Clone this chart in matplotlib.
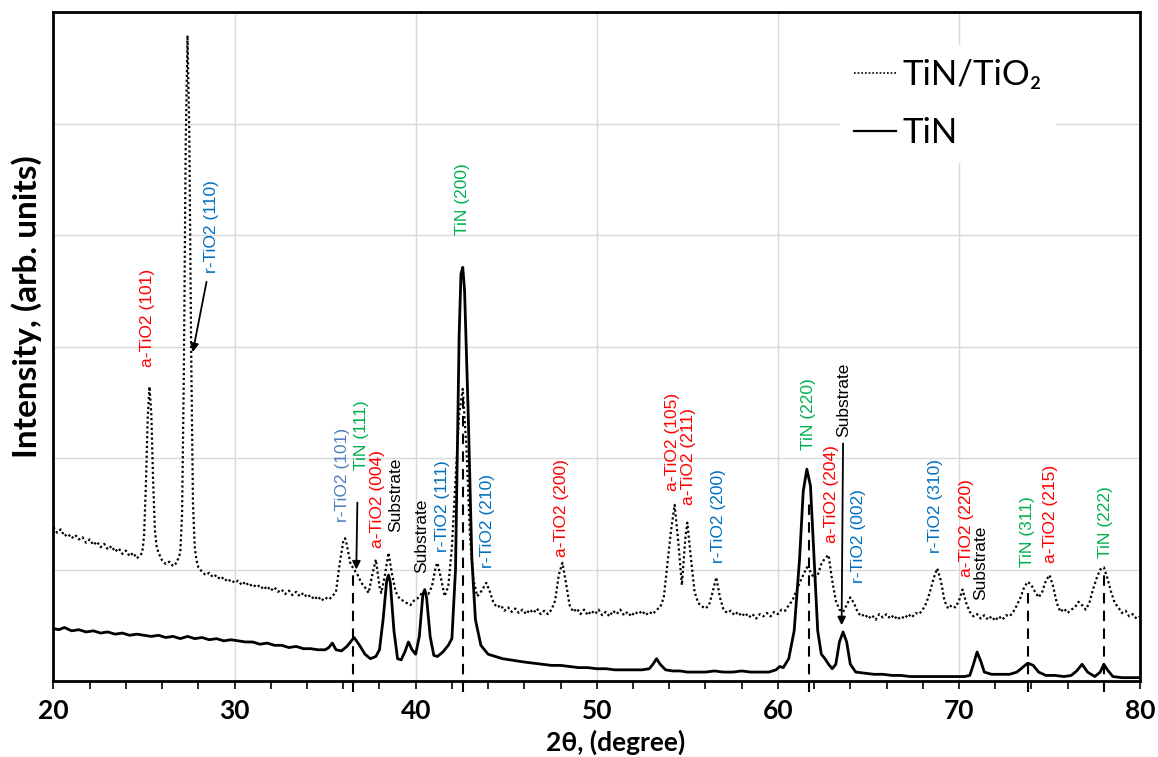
import matplotlib
matplotlib.use("Agg")
import matplotlib.pyplot as plt
from matplotlib.lines import Line2D

# XRD patterns (2theta in degree, intensity in arbitrary units)

# TiN/TiO2 coating (dotted curve)
tio2_x = [20.0, 20.2, 20.4, 20.6, 20.8, 21.0, 21.2, 21.4, 21.6, 21.8,
          22.0, 22.2, 22.4, 22.6, 22.8, 23.0, 23.2, 23.4, 23.6, 23.8,
          24.0, 24.2, 24.4, 24.6, 24.8, 24.9, 25.0, 25.1, 25.2, 25.3,
          25.4, 25.5, 25.6, 25.7, 25.8, 26.0, 26.2, 26.4, 26.6, 26.8,
          27.0, 27.1, 27.2, 27.3, 27.4, 27.5, 27.6, 27.7, 27.8, 27.9,
          28.0, 28.2, 28.4, 28.6, 28.8, 29.0, 29.2, 29.4, 29.6, 29.8,
          30.0, 30.2, 30.4, 30.6, 30.8, 31.0, 31.2, 31.4, 31.6, 31.8,
          32.0, 32.2, 32.4, 32.6, 32.8, 33.0, 33.2, 33.4, 33.6, 33.8,
          34.0, 34.2, 34.4, 34.6, 34.8, 35.0, 35.2, 35.4, 35.6, 35.8,
          36.0, 36.1, 36.2, 36.4, 36.6, 36.8, 37.0, 37.2, 37.4, 37.6,
          37.8, 38.0, 38.1, 38.3, 38.5, 38.7, 38.9, 39.1, 39.3, 39.5,
          39.7, 39.9, 40.1, 40.3, 40.5, 40.7, 40.9, 41.1, 41.2, 41.4,
          41.6, 41.8, 42.0, 42.2, 42.4, 42.6, 42.8, 43.0, 43.2, 43.4,
          43.6, 43.9, 44.1, 44.3, 44.5, 44.7, 44.9, 45.1, 45.3, 45.5,
          45.7, 45.9, 46.1, 46.3, 46.5, 46.7, 46.9, 47.1, 47.3, 47.5,
          47.7, 47.9, 48.1, 48.3, 48.5, 48.7, 48.9, 49.1, 49.3, 49.5,
          49.7, 49.9, 50.1, 50.3, 50.5, 50.7, 50.9, 51.1, 51.3, 51.5,
          51.7, 51.9, 52.1, 52.3, 52.5, 52.7, 52.9, 53.1, 53.3, 53.5,
          53.7, 53.9, 54.1, 54.3, 54.5, 54.7, 54.9, 55.0, 55.2, 55.4,
          55.6, 55.8, 56.0, 56.2, 56.4, 56.6, 56.8, 57.0, 57.2, 57.4,
          57.6, 57.8, 58.0, 58.2, 58.4, 58.6, 58.8, 59.0, 59.2, 59.4,
          59.6, 59.8, 60.0, 60.2, 60.4, 60.6, 60.8, 61.0, 61.2, 61.4,
          61.6, 61.8, 62.0, 62.2, 62.4, 62.6, 62.8, 63.0, 63.2, 63.4,
          63.6, 63.8, 64.0, 64.2, 64.4, 64.6, 64.8, 65.0, 65.2, 65.4,
          65.6, 65.8, 66.0, 66.2, 66.4, 66.6, 66.8, 67.0, 67.2, 67.4,
          67.6, 67.8, 68.0, 68.2, 68.4, 68.6, 68.8, 69.0, 69.2, 69.4,
          69.6, 69.8, 70.0, 70.2, 70.4, 70.6, 70.8, 71.0, 71.2, 71.4,
          71.6, 71.8, 72.0, 72.2, 72.4, 72.6, 72.8, 73.0, 73.2, 73.4,
          73.6, 73.8, 74.0, 74.2, 74.4, 74.6, 74.8, 75.0, 75.2, 75.4,
          75.6, 75.8, 76.0, 76.2, 76.4, 76.6, 76.8, 77.0, 77.2, 77.4,
          77.6, 77.8, 78.0, 78.2, 78.4, 78.6, 78.8, 79.0, 79.2, 79.4,
          79.6, 79.8, 80.0]
tio2_y = [1.38, 1.33, 1.36, 1.30, 1.32, 1.28, 1.31, 1.27, 1.29, 1.24,
          1.27, 1.22, 1.25, 1.20, 1.23, 1.18, 1.21, 1.16, 1.19, 1.14,
          1.17, 1.12, 1.15, 1.10, 1.13, 1.15, 1.30, 1.75, 2.35, 2.64,
          2.40, 1.80, 1.35, 1.20, 1.15, 1.08, 1.05, 1.07, 1.03, 1.06,
          1.15, 1.50, 2.80, 4.80, 5.79, 4.90, 3.00, 1.60, 1.20, 1.08,
          1.02, 0.98, 0.95, 0.97, 0.93, 0.95, 0.91, 0.93, 0.89, 0.91,
          0.88, 0.90, 0.86, 0.89, 0.85, 0.87, 0.84, 0.86, 0.82, 0.85,
          0.81, 0.84, 0.80, 0.82, 0.78, 0.81, 0.77, 0.80, 0.76, 0.79,
          0.75, 0.77, 0.73, 0.76, 0.72, 0.75, 0.73, 0.76, 0.80, 1.05,
          1.25, 1.28, 1.22, 1.05, 1.00, 0.95, 0.88, 0.84, 0.79, 0.95,
          1.09, 0.85, 0.79, 0.95, 1.15, 0.95, 0.80, 0.74, 0.72, 0.70,
          0.68, 0.72, 0.74, 0.78, 0.80, 0.78, 0.85, 1.02, 1.06, 0.92,
          0.76, 0.85, 1.20, 1.80, 2.40, 2.62, 2.10, 1.30, 0.90, 0.76,
          0.80, 0.88, 0.80, 0.70, 0.66, 0.68, 0.63, 0.66, 0.62, 0.65,
          0.61, 0.64, 0.60, 0.64, 0.61, 0.65, 0.60, 0.63, 0.60, 0.64,
          0.72, 0.95, 1.06, 0.88, 0.68, 0.62, 0.65, 0.60, 0.64, 0.59,
          0.63, 0.60, 0.64, 0.59, 0.62, 0.58, 0.63, 0.60, 0.64, 0.59,
          0.62, 0.58, 0.62, 0.60, 0.63, 0.59, 0.62, 0.60, 0.64, 0.66,
          0.75, 1.05, 1.35, 1.58, 1.25, 0.86, 1.30, 1.42, 1.10, 0.80,
          0.70, 0.67, 0.65, 0.68, 0.80, 0.93, 0.75, 0.64, 0.61, 0.63,
          0.59, 0.62, 0.58, 0.61, 0.57, 0.60, 0.56, 0.60, 0.58, 0.61,
          0.58, 0.62, 0.60, 0.64, 0.63, 0.68, 0.72, 0.80, 0.88, 0.95,
          1.02, 0.98, 0.92, 0.95, 1.05, 1.10, 1.13, 0.90, 0.72, 0.64,
          0.62, 0.68, 0.75, 0.70, 0.62, 0.58, 0.60, 0.56, 0.59, 0.55,
          0.60, 0.57, 0.60, 0.56, 0.59, 0.55, 0.58, 0.56, 0.60, 0.57,
          0.61, 0.60, 0.64, 0.70, 0.80, 0.92, 1.01, 0.90, 0.72, 0.65,
          0.68, 0.66, 0.72, 0.82, 0.70, 0.62, 0.58, 0.60, 0.56, 0.59,
          0.55, 0.58, 0.54, 0.58, 0.55, 0.59, 0.58, 0.62, 0.68, 0.75,
          0.84, 0.89, 0.86, 0.80, 0.75, 0.80, 0.90, 0.95, 0.85, 0.70,
          0.62, 0.65, 0.61, 0.64, 0.66, 0.71, 0.68, 0.64, 0.70, 0.82,
          0.92, 1.00, 1.02, 0.92, 0.80, 0.70, 0.66, 0.61, 0.63, 0.58,
          0.60, 0.56, 0.58]

# TiN coating (solid curve)
tin_x = [20.0, 20.3, 20.6, 21.0, 21.4, 21.8, 22.2, 22.6, 23.0, 23.4,
         23.8, 24.2, 24.6, 25.0, 25.4, 25.8, 26.2, 26.6, 27.0, 27.4,
         27.8, 28.2, 28.6, 29.0, 29.4, 29.8, 30.2, 30.6, 31.0, 31.4,
         31.8, 32.2, 32.6, 33.0, 33.4, 33.8, 34.2, 34.6, 35.0, 35.2,
         35.4, 35.6, 35.9, 36.2, 36.6, 36.9, 37.2, 37.5, 37.8, 38.0,
         38.2, 38.4, 38.5, 38.6, 38.8, 39.0, 39.2, 39.4, 39.6, 39.8,
         40.0, 40.2, 40.4, 40.5, 40.6, 40.8, 41.0, 41.2, 41.5, 41.8,
         42.0, 42.2, 42.4, 42.5, 42.6, 42.7, 42.9, 43.1, 43.3, 43.6,
         44.0, 44.4, 44.8, 45.2, 45.6, 46.0, 46.5, 47.0, 47.5, 48.0,
         48.5, 49.0, 49.5, 50.0, 50.5, 51.0, 51.5, 52.0, 52.5, 52.9,
         53.1, 53.3, 53.5, 53.8, 54.2, 54.6, 55.0, 55.5, 56.0, 56.5,
         57.0, 57.5, 58.0, 58.5, 59.0, 59.5, 59.9, 60.1, 60.3, 60.6,
         60.9, 61.2, 61.4, 61.6, 61.8, 62.0, 62.2, 62.4, 62.6, 62.8,
         63.0, 63.2, 63.4, 63.6, 63.8, 64.0, 64.3, 64.8, 65.3, 65.8,
         66.3, 66.8, 67.3, 67.8, 68.3, 68.8, 69.3, 69.8, 70.3, 70.6,
         70.8, 71.0, 71.2, 71.4, 71.8, 72.3, 72.8, 73.2, 73.5, 73.8,
         74.1, 74.4, 74.8, 75.3, 75.8, 76.2, 76.5, 76.8, 77.1, 77.5,
         77.8, 78.0, 78.2, 78.5, 79.0, 79.5, 80.0]
tin_y = [0.47, 0.46, 0.48, 0.45, 0.46, 0.44, 0.45, 0.43, 0.44, 0.42,
         0.43, 0.41, 0.42, 0.41, 0.40, 0.41, 0.39, 0.40, 0.38, 0.40,
         0.38, 0.39, 0.37, 0.38, 0.36, 0.37, 0.36, 0.35, 0.35, 0.33,
         0.34, 0.32, 0.32, 0.30, 0.31, 0.29, 0.29, 0.28, 0.28, 0.30,
         0.34, 0.28, 0.27, 0.31, 0.39, 0.32, 0.24, 0.20, 0.22, 0.28,
         0.55, 0.90, 0.95, 0.88, 0.45, 0.20, 0.19, 0.26, 0.35, 0.28,
         0.24, 0.40, 0.78, 0.82, 0.75, 0.40, 0.23, 0.22, 0.26, 0.32,
         0.38, 1.00, 3.10, 3.65, 3.71, 3.50, 2.40, 1.10, 0.55, 0.32,
         0.24, 0.22, 0.20, 0.19, 0.18, 0.17, 0.16, 0.15, 0.14, 0.14,
         0.13, 0.12, 0.12, 0.11, 0.11, 0.10, 0.10, 0.10, 0.10, 0.11,
         0.15, 0.20, 0.15, 0.10, 0.09, 0.09, 0.08, 0.08, 0.08, 0.09,
         0.08, 0.08, 0.09, 0.08, 0.08, 0.08, 0.10, 0.13, 0.12, 0.20,
         0.45, 1.10, 1.70, 1.90, 1.75, 1.10, 0.45, 0.24, 0.20, 0.15,
         0.11, 0.15, 0.35, 0.44, 0.35, 0.15, 0.08, 0.07, 0.06, 0.06,
         0.05, 0.05, 0.04, 0.04, 0.04, 0.04, 0.04, 0.04, 0.04, 0.05,
         0.15, 0.26, 0.18, 0.08, 0.06, 0.06, 0.06, 0.08, 0.12, 0.16,
         0.14, 0.08, 0.05, 0.05, 0.04, 0.05, 0.09, 0.15, 0.08, 0.04,
         0.08, 0.15, 0.10, 0.04, 0.03, 0.03, 0.03]

# peak labels: text, colour, x, bottom of text
peak_labels = ["a-TiO2 (101)", "r-TiO2 (110)", "r-TiO2 (101)", "TiN (111)",
               "a-TiO2 (004)", "Substrate", "Substrate", "r-TiO2 (111)",
               "TiN (200)", "r-TiO2 (210)", "a-TiO2 (200)", "a-TiO2 (105)",
               "a-TiO2 (211)", "r-TiO2 (200)", "TiN (220)", "Substrate",
               "a-TiO2 (204)", "r-TiO2 (002)", "r-TiO2 (310)", "a-TiO2 (220)",
               "Substrate", "TiN (311)", "a-TiO2 (215)", "TiN (222)"]

RED, BLUE, LBLUE, GREEN, BLK = "#FF0000", "#0070C0", "#4F81BD", "#00B050", "black"
label_colors = [RED, BLUE, LBLUE, GREEN, RED, BLK, BLK, BLUE, GREEN, BLUE, RED,
                RED, RED, BLUE, GREEN, BLK, RED, BLUE, BLUE, RED, BLK, GREEN,
                RED, GREEN]
label_x = [25.2, 28.73, 35.95, 37.0, 37.88, 38.92, 40.35, 41.46, 42.56, 43.94,
           48.07, 54.19, 55.07, 56.72, 61.68, 63.61, 62.95, 64.44, 68.73,
           70.39, 71.21, 73.8, 75.07, 78.1]
label_y = [2.82, 3.66, 1.43, 1.89, 1.19, 1.34, 0.97, 1.16, 4.0, 1.01, 1.11,
           1.70, 1.58, 1.06, 2.07, 2.19, 1.24, 0.88, 1.15, 0.93, 0.73, 1.02,
           1.06, 1.10]

# dashed reference lines (position, top)
ref_x = [36.55, 42.6, 61.7, 73.8, 78.0]
ref_top = [1.0, 2.6, 1.6, 0.84, 0.98]

# arrows (start -> end)
arrows = [((28.45, 3.58), (27.69, 2.95)),
          ((36.78, 1.60), (36.72, 1.00)),
          ((63.60, 2.13), (63.52, 0.50))]


fig = plt.figure(figsize=(11.58, 7.57), dpi=100)
ax = fig.add_axes([0.0462, 0.1004, 0.9383, 0.8837])

# curves
ax.plot(tio2_x, tio2_y, color="black", lw=1.6, linestyle=(0, (1, 1.2)))
ax.plot(tin_x, tin_y, color="black", lw=2.0)

# dashed lines under the peaks
for xr, top in zip(ref_x, ref_top):
    ax.plot([xr, xr], [-0.1, top], color="black", lw=1.5,
            linestyle=(0, (5, 3.5)), clip_on=False, zorder=1)

for (x0, y0), (x1, y1) in arrows:
    ax.annotate("", xy=(x1, y1), xytext=(x0, y0),
                arrowprops=dict(arrowstyle="-|>", color="black", lw=1.3,
                                mutation_scale=12, shrinkA=0, shrinkB=0))

for txt, c, x, y in zip(peak_labels, label_colors, label_x, label_y):
    ax.text(x, y, txt, color=c, rotation=90, ha="center", va="bottom",
            fontsize=12.5, family="Liberation Sans")

ax.set_xlim(20, 80)
ax.set_ylim(0, 6)
ax.set_xticks(range(20, 81, 10))
ax.set_xticks(range(20, 81, 2), minor=True)
ax.set_yticks(range(0, 7))
ax.tick_params(axis="y", length=0, labelleft=False)
ax.tick_params(axis="x", which="both", direction="out", length=6, width=1.2,
               pad=7)
for lab in ax.get_xticklabels():
    lab.set_fontfamily("Lato")
    lab.set_fontweight("bold")
    lab.set_fontsize(19)

ax.grid(True, color="#D9D9D9", lw=1.0)
ax.set_axisbelow(True)
for s in ax.spines.values():
    s.set_linewidth(2.0)
    s.set_color("black")

ax.set_xlabel("2θ, (degree)", fontsize=19, fontweight="bold", family="Lato")
ax.xaxis.set_label_coords(0.517, -0.073)
ax.set_ylabel("Intensity, (arb. units)", fontsize=24, fontweight="bold",
              family="Lato")
ax.yaxis.set_label_coords(-0.011, 0.559)

# legend
handles = [Line2D([], [], color="black", lw=1.2, linestyle=(0, (1, 1.2))),
           Line2D([], [], color="black", lw=1.6)]
leg = ax.legend(handles, ["TiN/TiO₂", "TiN"], loc="upper left",
                bbox_to_anchor=(0.708, 0.976), frameon=True, fancybox=False,
                framealpha=1, edgecolor="none", facecolor="white",
                handlelength=1.2, handletextpad=0.2, labelspacing=0.75,
                borderpad=0.4,
                prop={"family": ["Lato", "DejaVu Sans"], "size": 25})

fig.savefig("out.png", dpi=100)
